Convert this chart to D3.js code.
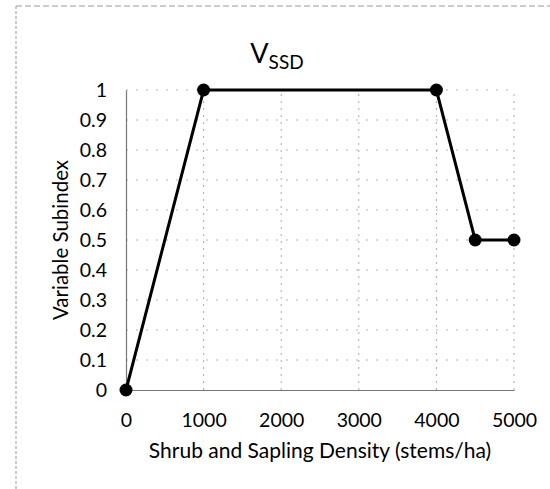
<!DOCTYPE html>
<html><head><meta charset="utf-8">
<script src="https://cdn.jsdelivr.net/npm/d3@7/dist/d3.min.js"></script>
<style>
body{margin:0;background:#fff;}
text{font-family:Lato,"Open Sans",sans-serif;fill:#000;}
</style></head>
<body><svg id="c" width="550" height="489"></svg>
<script>
const xValues = [0, 1000, 4000, 4500, 5000];
const yValues = [0, 1, 1, 0.5, 0.5];
const xTicks = [0, 1000, 2000, 3000, 4000, 5000];
const yTicks = [0, 0.1, 0.2, 0.3, 0.4, 0.5, 0.6, 0.7, 0.8, 0.9, 1];
const titleMain = "V";
const titleSub = "SSD";
const xTitle = "Shrub and Sapling Density (stems/ha)";
const yTitle = "Variable Subindex";

const svg = d3.select("#c");
const x = d3.scaleLinear().domain([0, 5000]).range([126, 514]);
const y = d3.scaleLinear().domain([0, 1]).range([390, 90]);

// outer chart border (dashed, partly cropped)
svg.append("line").attr("x1",16).attr("x2",16).attr("y1",6).attr("y2",489)
  .attr("stroke","#999").attr("stroke-dasharray","3,2").attr("stroke-width",1);
svg.append("line").attr("x1",16).attr("x2",550).attr("y1",6).attr("y2",6)
  .attr("stroke","#999").attr("stroke-dasharray","6,3").attr("stroke-width",1);

// gridlines
svg.append("g").selectAll("line").data(yTicks.filter(d=>d>0)).join("line")
  .attr("x1",x(0)).attr("x2",x(5000)).attr("y1",d=>y(d)).attr("y2",d=>y(d))
  .attr("stroke","#b5b5b5").attr("stroke-width",1).attr("stroke-dasharray","2,8");
svg.append("g").selectAll("line").data(xTicks.filter(d=>d>0)).join("line")
  .attr("x1",d=>x(d)).attr("x2",d=>x(d)).attr("y1",y(0)).attr("y2",y(1))
  .attr("stroke","#aaa").attr("stroke-width",1).attr("stroke-dasharray","2,5");

// axes
const xAxis = svg.append("g").attr("transform",`translate(0,${y(0)})`)
  .call(d3.axisBottom(x).tickValues(xTicks).tickSize(0).tickPadding(23).tickFormat(d3.format("d")));
const yAxis = svg.append("g").attr("transform",`translate(${x(0)},0)`)
  .call(d3.axisLeft(y).tickValues(yTicks).tickSize(0).tickPadding(19).tickFormat(d=>d3.format("")(+d.toFixed(1))));
[xAxis,yAxis].forEach(a=>{
  a.select(".domain").attr("stroke","#777").attr("stroke-width",1.2);
  a.selectAll("text").style("font-family","Lato,'Open Sans',sans-serif").style("font-size","19.5px").attr("fill","#000");
});

// line + markers
const pts = xValues.map((v,i)=>[v,yValues[i]]);
svg.append("path").datum(pts)
  .attr("d", d3.line().x(d=>x(d[0])).y(d=>y(d[1])))
  .attr("fill","none").attr("stroke","#000").attr("stroke-width",3);
svg.append("g").selectAll("circle").data(pts).join("circle")
  .attr("cx",d=>x(d[0])).attr("cy",d=>y(d[1])).attr("r",6.5).attr("fill","#000");

// title
const t = svg.append("text").attr("x",277).attr("y",63).attr("text-anchor","middle");
t.append("tspan").text(titleMain).style("font-size","27px");
t.append("tspan").text(titleSub).style("font-size","19px").attr("dy",6);

// axis titles
svg.append("text").attr("x",320).attr("y",458).attr("text-anchor","middle")
  .style("font-size","21px").text(xTitle);
svg.append("text").attr("transform","translate(68,240) rotate(-90)").attr("text-anchor","middle")
  .style("font-size","20.5px").text(yTitle);
</script></body></html>
